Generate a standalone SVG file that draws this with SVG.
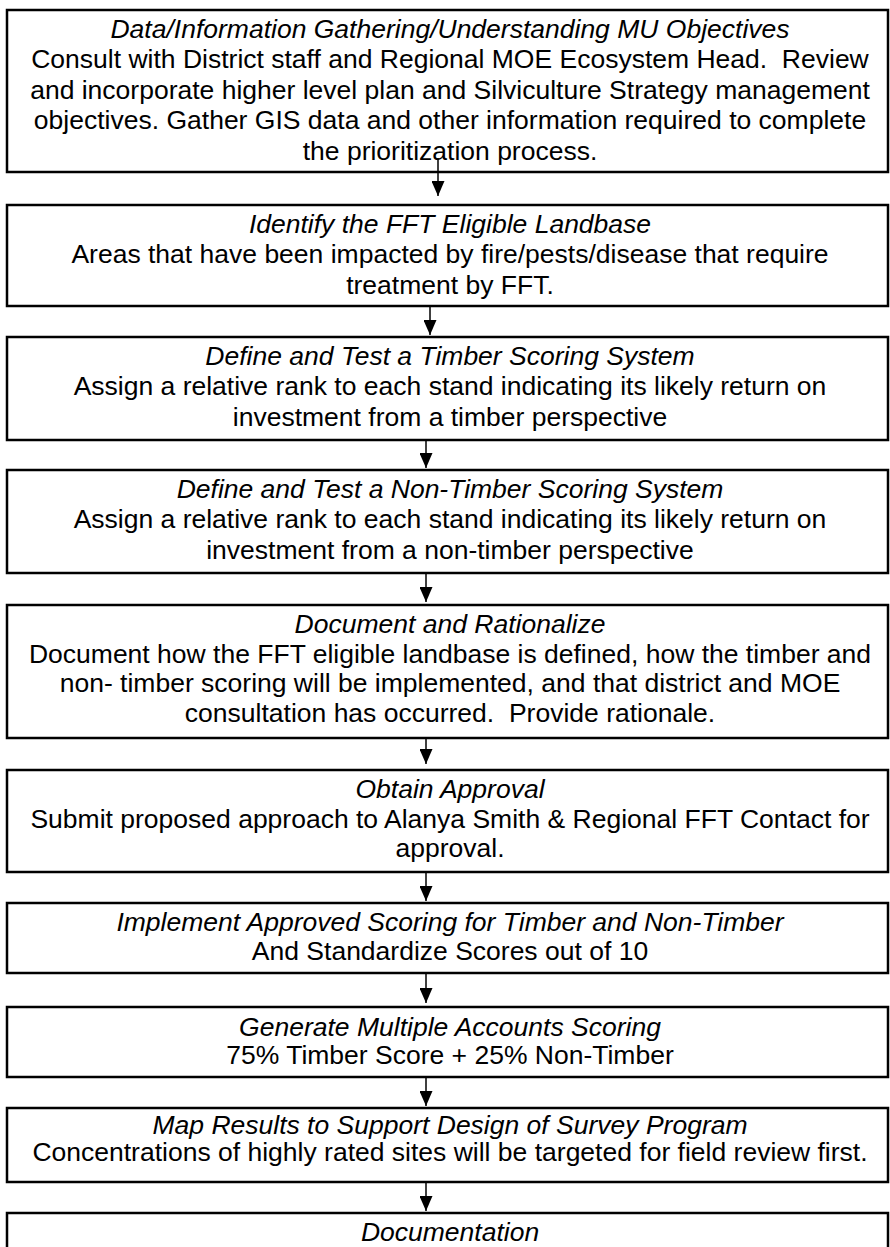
<svg xmlns="http://www.w3.org/2000/svg" width="890" height="1247" viewBox="0 0 890 1247">
<style>
.box{fill:#fff;stroke:#000;stroke-width:2.5}
text{font-family:"Liberation Sans",Arial,sans-serif;font-size:26.5px;fill:#000;text-anchor:middle;white-space:pre}
.t{font-style:italic}
.c{stroke:#000;stroke-width:1.5;fill:none}
</style>
<defs>
<marker id="ah" markerUnits="userSpaceOnUse" markerWidth="15" markerHeight="13" refX="15" refY="6.5" orient="auto">
<path d="M0,0 L15,6.5 L0,13 z" fill="#000"/>
</marker>
</defs>
<rect width="890" height="1247" fill="#fff"/>
<g id="n1">
<rect class="box" x="7" y="10" width="881" height="162"/>
<text x="450" y="37.5" class="t">Data/Information Gathering/Understanding MU Objectives</text>
<text x="450" y="68">Consult with District staff and Regional MOE Ecosystem Head.  Review</text>
<text x="450" y="98.5">and incorporate higher level plan and Silviculture Strategy management</text>
<text x="450" y="129">objectives. Gather GIS data and other information required to complete</text>
<text x="450" y="159.5">the prioritization process.</text>
</g>
<g id="n2">
<rect class="box" x="7" y="205" width="881" height="101"/>
<text x="450" y="232.5" class="t">Identify the FFT Eligible Landbase</text>
<text x="450" y="263">Areas that have been impacted by fire/pests/disease that require</text>
<text x="450" y="293.5">treatment by FFT.</text>
</g>
<g id="n3">
<rect class="box" x="7" y="337" width="881" height="103"/>
<text x="450" y="364.5" class="t">Define and Test a Timber Scoring System</text>
<text x="450" y="395">Assign a relative rank to each stand indicating its likely return on</text>
<text x="450" y="425.5">investment from a timber perspective</text>
</g>
<g id="n4">
<rect class="box" x="7" y="470" width="881" height="103"/>
<text x="450" y="497.5" class="t">Define and Test a Non-Timber Scoring System</text>
<text x="450" y="528">Assign a relative rank to each stand indicating its likely return on</text>
<text x="450" y="558.5">investment from a non-timber perspective</text>
</g>
<g id="n5">
<rect class="box" x="7" y="605" width="881" height="133"/>
<text x="450" y="632.5" class="t">Document and Rationalize</text>
<text x="450" y="662.5">Document how the FFT eligible landbase is defined, how the timber and</text>
<text x="450" y="692">non- timber scoring will be implemented, and that district and MOE</text>
<text x="450" y="721.5">consultation has occurred.  Provide rationale.</text>
</g>
<g id="n6">
<rect class="box" x="7" y="770" width="881" height="102"/>
<text x="450" y="797.5" class="t">Obtain Approval</text>
<text x="450" y="827.5">Submit proposed approach to Alanya Smith &amp; Regional FFT Contact for</text>
<text x="450" y="857">approval.</text>
</g>
<g id="n7">
<rect class="box" x="7" y="903" width="881" height="70"/>
<text x="450" y="931" class="t">Implement Approved Scoring for Timber and Non-Timber</text>
<text x="450" y="960">And Standardize Scores out of 10</text>
</g>
<g id="n8">
<rect class="box" x="7" y="1007" width="881" height="70"/>
<text x="450" y="1035.5" class="t">Generate Multiple Accounts Scoring</text>
<text x="450" y="1064">75% Timber Score + 25% Non-Timber</text>
</g>
<g id="n9">
<rect class="box" x="7" y="1108" width="881" height="74"/>
<text x="450" y="1133.5" class="t">Map Results to Support Design of Survey Program</text>
<text x="450" y="1161">Concentrations of highly rated sites will be targeted for field review first.</text>
</g>
<g id="n10">
<rect class="box" x="7" y="1213" width="881" height="60"/>
<text x="450" y="1241" class="t">Documentation</text>
</g>
<g id="connectors">
<line class="c" x1="438" y1="158" x2="438" y2="196" marker-end="url(#ah)"/>
<line class="c" x1="430" y1="306" x2="430" y2="335" marker-end="url(#ah)"/>
<line class="c" x1="426" y1="440" x2="426" y2="468" marker-end="url(#ah)"/>
<line class="c" x1="426" y1="573" x2="426" y2="602" marker-end="url(#ah)"/>
<line class="c" x1="426" y1="738" x2="426" y2="764" marker-end="url(#ah)"/>
<line class="c" x1="426" y1="872" x2="426" y2="901" marker-end="url(#ah)"/>
<line class="c" x1="426" y1="973" x2="426" y2="1003" marker-end="url(#ah)"/>
<line class="c" x1="426" y1="1077" x2="426" y2="1106" marker-end="url(#ah)"/>
<line class="c" x1="426" y1="1182" x2="426" y2="1211" marker-end="url(#ah)"/>
</g>
</svg>
